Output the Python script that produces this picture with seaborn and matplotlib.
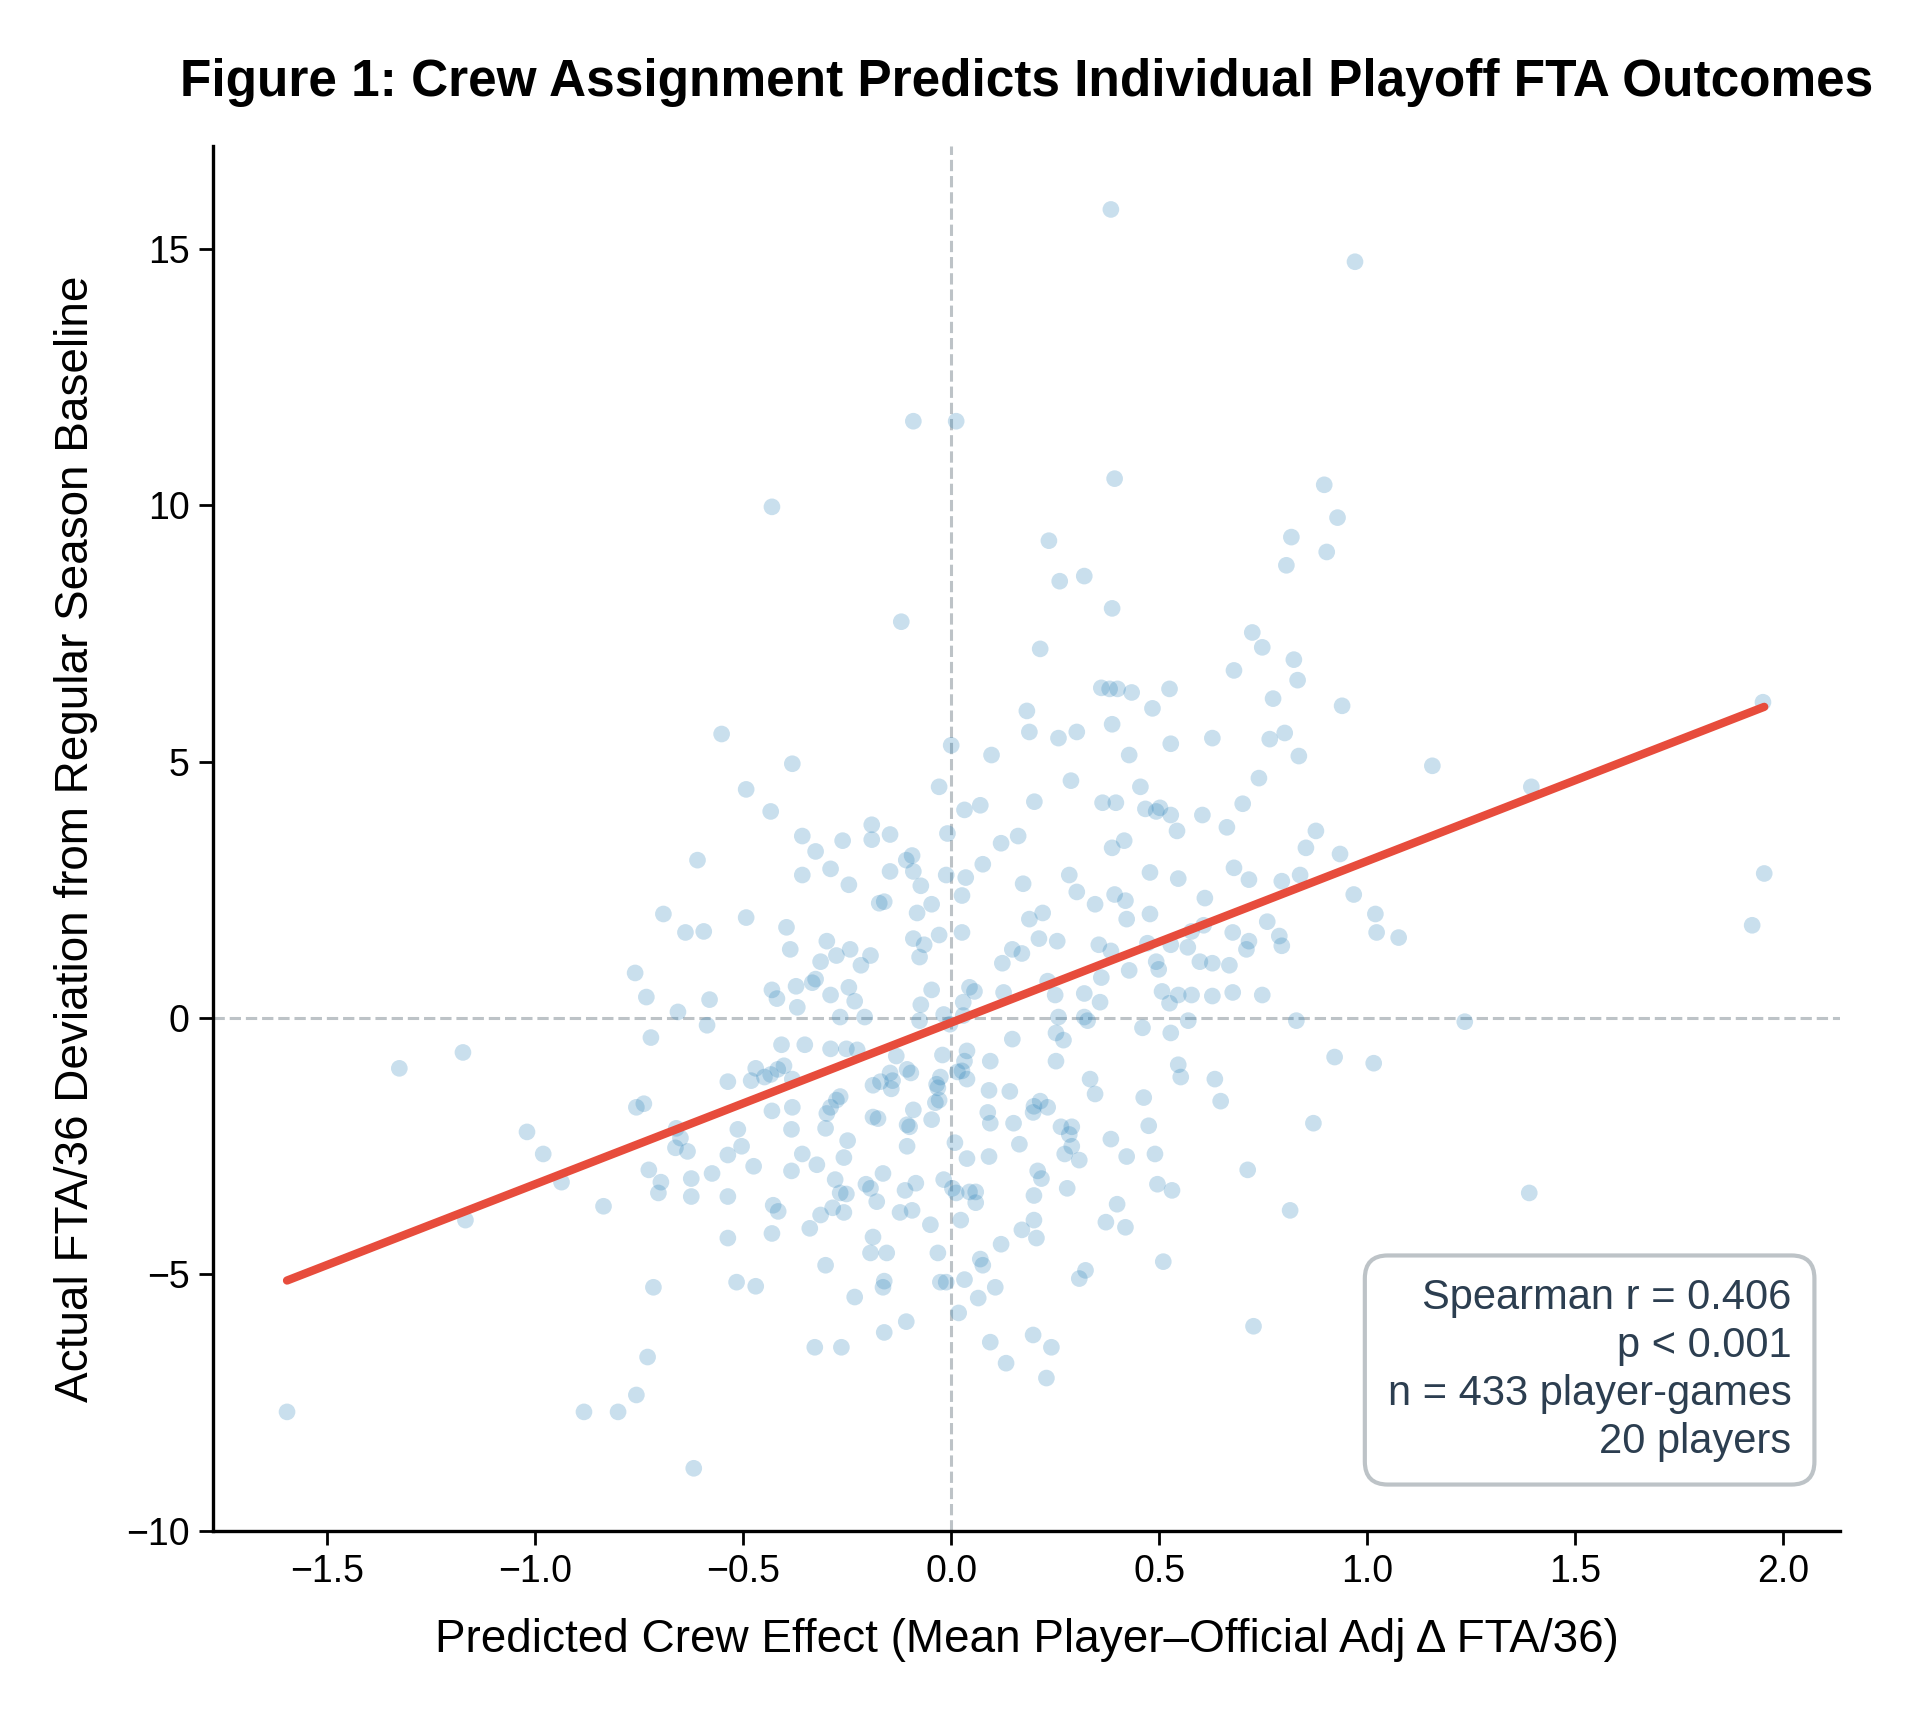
import numpy as np
import matplotlib
matplotlib.use("Agg")
import matplotlib.pyplot as plt
import seaborn as sns

# predicted crew effect (x) and actual FTA/36 deviation (y)
crew_effect = [
    0.384, 0.971, -0.091, 0.012, 0.393, -0.431, 0.897, 0.929, 0.818, 0.235,
    0.903, 0.806, 0.320, 0.261, 0.387, -0.12, 0.724, 0.748, 0.214, 0.824,
    0.68, 0.833, 0.361, 0.381, 0.4, 0.434, 0.525, 0.774, 0.484, 0.94,
    1.952, 0.182, 0.387, -0.552, 0.188, 0.302, 0.802, 0.258, 0.766, 0.628,
    0.528, 0.0, 0.428, 0.836, 0.097, -0.382, 1.157, 0.74, 0.288, -0.493,
    -0.029, 1.395, 0.455, 0.396, 0.2, 0.364, 0.467, 0.493, 0.701, 0.032,
    -0.434, 0.528, 0.604, 0.07, 0.502, -0.191, -0.147, -0.358, 0.543, 0.663,
    0.877, -0.009, 0.161, -0.261, -0.191, 0.416, 0.387, -0.326, 0.853, 0.12,
    -0.094, 0.935, -0.61, -0.108, 0.076, -0.147, -0.091, -0.29, 0.68, 0.478,
    1.955, -0.358, 0.284, 0.839, 0.716, 0.546, -0.012, 0.035, 0.795, 0.173,
    -0.246, -0.073, 0.302, 0.026, 0.968, 0.393, -0.161, -0.173, 0.419, 0.61,
    -0.047, 0.346, -0.082, 0.22, -0.692, 1.02, 0.478, -0.493, 0.188, 0.422,
    0.76, 0.607, 1.926, -0.396, -0.595, -0.639, 0.026, 1.023, 0.578, 0.677,
    1.076, -0.029, 0.789, -0.091, 0.211, 0.255, -0.299, -0.065, 0.528, 0.795,
    0.716, 0.71, 0.472, 0.569, -0.243, -0.387, 0.147, 0.17, 0.384, -0.194,
    -0.276, -0.076, -0.314, 0.123, 0.355, 0.598, 0.628, 0.669, -0.217, 0.493,
    0.499, 0.361, 0.232, 0.428,
    -0.326, -0.334, -0.373, -0.76, -0.581, -0.733, -0.419, -0.431, -0.29, -0.246,
    -0.232, -0.047, 0.044, 0.056, 0.126, 0.25, 0.32, 0.507, 0.546, 0.578,
    0.628, 0.677, 0.748, 0.358, 0.525, 0.029, -0.073, -0.37, -0.657, -0.208,
    -0.267, -0.076, 0.029, 0.258, 0.32, 0.328, 0.57, 0.83, 1.235, -0.587,
    -0.003, -0.018, 0.46, 0.252, 0.528, 0.147, 0.27, -0.408, -0.352, -0.722,
    0.038, -0.021, -0.226, -0.252, -0.29, -0.132, -1.174, 0.922, 0.032, 0.094,
    0.252, 0.546, 1.016, -1.327, -0.47, -0.402, -0.417, -0.106, -0.097, -0.147,
    0.015, 0.026, -0.026, -0.449, -0.382, -0.537, -0.481, -0.434, -0.17, -0.141,
    -0.035, 0.038, 0.334, 0.634, 0.552, -0.188, -0.032, -0.144, 0.141, 0.091,
    0.346, -0.267, -0.276, -0.029, -0.038, 0.463, 0.648, -0.739, 0.214, 0.199,
    0.232, -0.29, -0.757, -0.382, -0.431, 0.197, 0.088, -0.091, 0.15, -0.299,
    -0.188, -0.176, -0.047, 0.094, 0.871, 0.475, 0.264, 0.29, -0.106, -0.1,
    -0.513, -0.384, -0.302, -1.02, -0.661, -0.651, 0.284, -0.106, -0.504, 0.009,
    0.164, 0.384, -0.249, 0.29, -0.663, -0.634, -0.981, -0.358, -0.537, -0.258,
    0.091, 0.273, 0.422, 0.49, 0.038, 0.308, -0.323, -0.727, -0.475, -0.384,
    -0.164, 0.713, 0.208, -0.575, -0.937, -0.698, -0.625, -0.279, -0.018, -0.205,
    0.279, 0.217, 0.496, 0.531, -0.085, 0.003, -0.194, -0.111, -0.267, 0.012,
    0.044, 0.059, -0.704, -0.537, -0.252, 0.199, 1.39, -0.625, -0.179, 0.059,
    0.399, -0.428, -0.285, -0.416, 0.815, -0.836, -0.258, -0.094, -0.123, -0.314,
    -1.168, 0.023, 0.199, 0.372, -0.34, -0.05, -0.431, 0.17, 0.419, 0.205,
    -0.188, -0.537, 0.12, -0.194, -0.155, -0.032, 0.07, 0.076, 0.51, -0.302,
    0.308, 0.323, 0.032, -0.026, -0.012, -0.161, -0.164, -0.516, -0.47, -0.716,
    0.106, 0.065, -0.232, 0.018, -0.108, 0.727, -0.161, 0.197, 0.094, -0.328,
    -0.264, 0.241, -0.73, 0.132, 0.229, -0.757, -1.597, -0.883, -0.801, -0.619,
]
fta_deviation = [
    15.77, 14.75, 11.64, 11.64, 10.52, 9.97, 10.4, 9.76, 9.38, 9.31,
    9.09, 8.83, 8.62, 8.52, 7.99, 7.73, 7.52, 7.23, 7.2, 6.99,
    6.78, 6.59, 6.44, 6.42, 6.42, 6.35, 6.42, 6.23, 6.04, 6.09,
    6.16, 5.99, 5.73, 5.54, 5.58, 5.58, 5.56, 5.46, 5.44, 5.46,
    5.35, 5.32, 5.13, 5.11, 5.13, 4.96, 4.92, 4.68, 4.63, 4.46,
    4.51, 4.51, 4.51, 4.2, 4.22, 4.2, 4.08, 4.03, 4.18, 4.06,
    4.03, 3.96, 3.96, 4.15, 4.1, 3.77, 3.58, 3.55, 3.65, 3.72,
    3.65, 3.6, 3.55, 3.46, 3.48, 3.46, 3.32, 3.25, 3.32, 3.41,
    3.17, 3.2, 3.08, 3.08, 3.0, 2.86, 2.86, 2.91, 2.93, 2.84,
    2.82, 2.79, 2.79, 2.79, 2.7, 2.72, 2.79, 2.74, 2.67, 2.62,
    2.6, 2.58, 2.46, 2.39, 2.41, 2.41, 2.27, 2.24, 2.29, 2.34,
    2.22, 2.22, 2.05, 2.05, 2.03, 2.03, 2.03, 1.96, 1.93, 1.93,
    1.88, 1.81, 1.81, 1.77, 1.69, 1.67, 1.67, 1.67, 1.69, 1.67,
    1.57, 1.62, 1.6, 1.55, 1.55, 1.5, 1.5, 1.43, 1.43, 1.41,
    1.5, 1.34, 1.46, 1.38, 1.34, 1.34, 1.34, 1.26, 1.31, 1.22,
    1.22, 1.19, 1.1, 1.07, 1.43, 1.1, 1.07, 1.03, 1.03, 1.1,
    0.95, 0.79, 0.72, 0.93,
    0.76, 0.69, 0.62, 0.88, 0.36, 0.41, 0.38, 0.55, 0.45, 0.6,
    0.33, 0.55, 0.6, 0.52, 0.5, 0.45, 0.48, 0.52, 0.45, 0.45,
    0.43, 0.5, 0.45, 0.31, 0.29, 0.31, 0.26, 0.21, 0.12, 0.02,
    0.02, -0.05, 0.05, 0.02, 0.02, -0.05, -0.05, -0.05, -0.07, -0.14,
    -0.12, 0.07, -0.19, -0.29, -0.29, -0.41, -0.43, -0.52, -0.52, -0.38,
    -0.64, -0.72, -0.62, -0.6, -0.6, -0.74, -0.67, -0.76, -0.84, -0.84,
    -0.84, -0.91, -0.88, -0.98, -0.98, -0.93, -1.0, -1.0, -1.07, -1.07,
    -1.05, -1.03, -1.15, -1.15, -1.19, -1.24, -1.22, -1.1, -1.24, -1.22,
    -1.29, -1.19, -1.19, -1.19, -1.15, -1.31, -1.36, -1.38, -1.43, -1.41,
    -1.48, -1.53, -1.6, -1.6, -1.65, -1.55, -1.62, -1.67, -1.62, -1.72,
    -1.74, -1.74, -1.74, -1.74, -1.81, -1.84, -1.84, -1.79, -2.05, -1.86,
    -1.93, -1.96, -1.98, -2.05, -2.05, -2.1, -2.12, -2.12, -2.08, -2.12,
    -2.17, -2.17, -2.15, -2.22, -2.15, -2.34, -2.27, -2.5, -2.5, -2.43,
    -2.46, -2.36, -2.39, -2.5, -2.53, -2.6, -2.65, -2.65, -2.67, -2.72,
    -2.7, -2.65, -2.7, -2.65, -2.74, -2.77, -2.86, -2.96, -2.89, -2.98,
    -3.03, -2.96, -2.98, -3.03, -3.2, -3.2, -3.13, -3.15, -3.15, -3.24,
    -3.32, -3.13, -3.24, -3.36, -3.22, -3.32, -3.32, -3.36, -3.41, -3.41,
    -3.39, -3.39, -3.41, -3.48, -3.43, -3.46, -3.41, -3.48, -3.58, -3.6,
    -3.63, -3.65, -3.7, -3.77, -3.75, -3.67, -3.79, -3.75, -3.79, -3.84,
    -3.94, -3.94, -3.94, -3.98, -4.1, -4.03, -4.2, -4.13, -4.08, -4.29,
    -4.27, -4.29, -4.41, -4.58, -4.58, -4.58, -4.7, -4.82, -4.75, -4.82,
    -5.08, -4.92, -5.1, -5.15, -5.15, -5.13, -5.25, -5.15, -5.23, -5.25,
    -5.25, -5.46, -5.44, -5.75, -5.92, -6.01, -6.13, -6.18, -6.32, -6.42,
    -6.42, -6.42, -6.61, -6.73, -7.02, -7.35, -7.68, -7.68, -7.68, -8.78,
]
assert len(crew_effect) == len(fta_deviation)

stats_lines = ["Spearman r = 0.406", "p < 0.001", "n = 433 player-games", "20 players"]

sns.set_style("ticks")
plt.rcParams["font.family"] = ["Liberation Sans", "DejaVu Sans"]
plt.rcParams["text.color"] = "black"
plt.rcParams["axes.labelcolor"] = "black"
plt.rcParams["xtick.color"] = "black"
plt.rcParams["ytick.color"] = "black"

fig = plt.figure(figsize=(9.595, 8.61), dpi=200)
ax = fig.add_axes([0.111, 0.111, 0.848, 0.804])

ax.axhline(0, color="#bdc3c7", ls="--", lw=1.1, zorder=0)
ax.axvline(0, color="#bdc3c7", ls="--", lw=1.1, zorder=0)

sns.scatterplot(x=crew_effect, y=fta_deviation, ax=ax, color="#2980b9",
                alpha=0.25, s=36, edgecolor="none", zorder=2)
sns.regplot(x=np.array(crew_effect), y=np.array(fta_deviation), ax=ax,
            scatter=False, ci=None, color="#e74c3c",
            line_kws={"lw": 3.0, "zorder": 3})

ax.set_xlim(-1.775, 2.138)
ax.set_ylim(-10, 17)
ax.set_xticks([-1.5, -1.0, -0.5, 0.0, 0.5, 1.0, 1.5, 2.0])
ax.set_yticks([-10, -5, 0, 5, 10, 15])
ax.tick_params(labelsize=13.5, length=5, width=1)
for sp in ["left", "bottom"]:
    ax.spines[sp].set_linewidth(1.2)
    ax.spines[sp].set_color("black")
sns.despine(ax=ax)

ax.set_xlabel("Predicted Crew Effect (Mean Player\u2013Official Adj \u0394 FTA/36)",
              fontsize=16.5, labelpad=10)
ax.set_ylabel("Actual FTA/36 Deviation from Regular Season Baseline",
              fontsize=16.5, labelpad=10)
ax.set_title("Figure 1: Crew Assignment Predicts Individual Playoff FTA Outcomes",
             fontsize=18.5, fontweight="bold", pad=18)

ax.text(0.97, 0.05, "\n".join(stats_lines), transform=ax.transAxes,
        ha="right", va="bottom", fontsize=15, color="#2c3e50", linespacing=1.25,
        bbox=dict(boxstyle="round,pad=0.55", fc="white", ec="#bdc3c7", lw=1.5))

fig.savefig("out.png", dpi=200)
